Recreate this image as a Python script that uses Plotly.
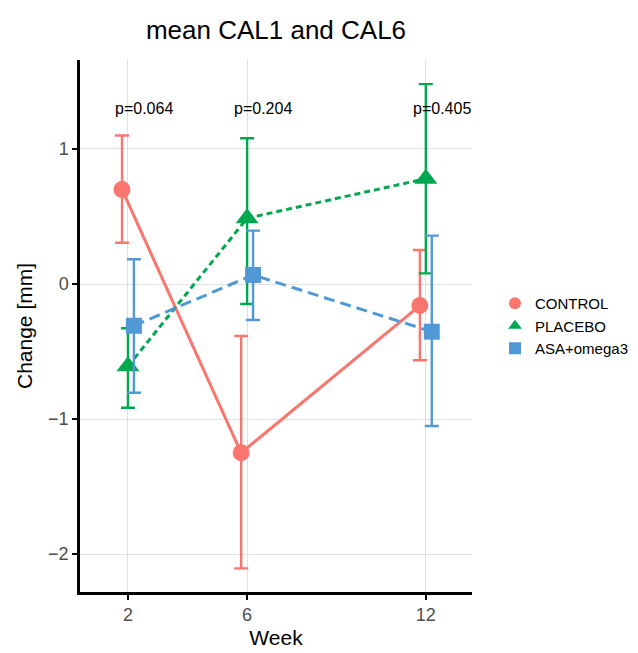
import plotly.graph_objects as go

weeks = [2, 6, 12]
groups = ["CONTROL", "PLACEBO", "ASA+omega3"]
dodge = [-0.2, 0.0, 0.2]

control_mean = [0.70, -1.25, -0.16]
control_upper = [1.10, -0.385, 0.252]
control_lower = [0.306, -2.106, -0.565]

placebo_mean = [-0.61, 0.487, 0.78]
placebo_upper = [-0.328, 1.079, 1.48]
placebo_lower = [-0.916, -0.148, 0.079]

asa_mean = [-0.309, 0.067, -0.353]
asa_upper = [0.183, 0.395, 0.358]
asa_lower = [-0.805, -0.267, -1.052]

p_labels = ["p=0.064", "p=0.204", "p=0.405"]
p_y = 1.30

colors = ["#F8766D", "#00A84F", "#5199D6"]
symbols = ["circle", "triangle-up", "square"]
dashes = ["solid", "6px,4px", "11px,6px"]
msizes = [17, 20, 16]

means = [control_mean, placebo_mean, asa_mean]
uppers = [control_upper, placebo_upper, asa_upper]
lowers = [control_lower, placebo_lower, asa_lower]

FONT = "Liberation Sans, Arial, sans-serif"

# page body has an 8px margin, so the figure is 8px smaller and shifted
W, H = 630, 645
L, T, R, B = 72, 52, 166, 61

fig = go.Figure()
for i, g in enumerate(groups):
    xs = [w + dodge[i] for w in weeks]
    m = means[i]
    up = [u - v for u, v in zip(uppers[i], m)]
    dn = [v - l for v, l in zip(m, lowers[i])]
    fig.add_trace(go.Scatter(
        x=xs, y=m, mode="lines+markers", name=g, showlegend=False,
        line=dict(color=colors[i], width=3, dash=dashes[i]),
        marker=dict(symbol=symbols[i], size=msizes[i], color=colors[i]),
        error_y=dict(type="data", symmetric=False, array=up, arrayminus=dn,
                     color=colors[i], thickness=2.4, width=7),
    ))
# legend-only entries (marker only, as in reference)
for i, g in enumerate(groups):
    fig.add_trace(go.Scatter(
        x=[None], y=[None], mode="markers", name=g,
        marker=dict(symbol=symbols[i], size=msizes[i], color=colors[i]),
    ))

for w, lab in zip(weeks, p_labels):
    fig.add_annotation(x=w - 0.5, y=p_y, text=lab, showarrow=False,
                       xanchor="left", yanchor="middle",
                       font=dict(family=FONT, size=16, color="black"))

fig.update_layout(
    width=W, height=H,
    margin=dict(l=L, r=R, t=T, b=B),
    paper_bgcolor="white", plot_bgcolor="white",
    title=dict(text="mean CAL1 and CAL6", x=(L + (W - R)) / 2 / W, xanchor="center",
               y=1 - 22 / H, yanchor="middle",
               font=dict(family=FONT, size=26, color="black")),
    font=dict(family=FONT),
    legend=dict(xref="container", yref="container",
                x=487 / W, y=1 - 318 / H, xanchor="left", yanchor="middle",
                font=dict(family=FONT, size=15, color="black"),
                itemsizing="constant", tracegroupgap=0,
                bgcolor="rgba(0,0,0,0)"),
    showlegend=True,
)
fig.update_xaxes(
    range=[0.39, 13.55], tickvals=weeks, ticktext=[str(w) for w in weeks],
    showgrid=True, gridcolor="#e0e0e0", gridwidth=1, zeroline=False,
    showline=True, linecolor="black", linewidth=2.5,
    ticks="outside", ticklen=5, tickcolor="black", tickwidth=1.5,
    tickfont=dict(family=FONT, size=18, color="#4d4d4d"),
    automargin=False,
    title=dict(text="Week", font=dict(family=FONT, size=21, color="black"), standoff=6),
)
fig.update_yaxes(
    range=[-2.281, 1.659], tickvals=[-2, -1, 0, 1],
    showgrid=True, gridcolor="#e0e0e0", gridwidth=1, zeroline=False,
    showline=True, linecolor="black", linewidth=2.5,
    ticks="outside", ticklen=5, tickcolor="black", tickwidth=1.5,
    tickfont=dict(family=FONT, size=18, color="#4d4d4d"),
    automargin=False,
    title=dict(text="Change [mm]", font=dict(family=FONT, size=21, color="black"), standoff=10),
)

fig.write_html("out.html")
